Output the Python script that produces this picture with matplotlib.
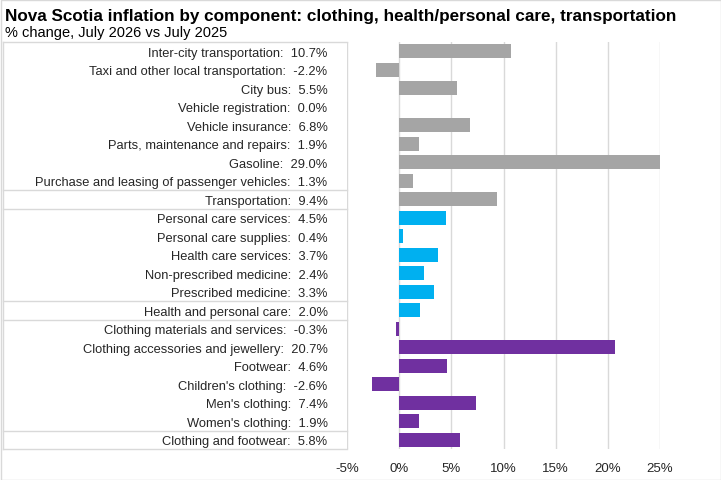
import matplotlib.pyplot as plt
from matplotlib.lines import Line2D
from matplotlib.patches import Rectangle
from matplotlib.transforms import blended_transform_factory

plt.rcParams['font.family'] = ['Liberation Sans', 'DejaVu Sans']

categories = [
    "Inter-city transportation", "Taxi and other local transportation", "City bus",
    "Vehicle registration", "Vehicle insurance", "Parts, maintenance and repairs",
    "Gasoline", "Purchase and leasing of passenger vehicles", "Transportation",
    "Personal care services", "Personal care supplies", "Health care services",
    "Non-prescribed medicine", "Prescribed medicine", "Health and personal care",
    "Clothing materials and services", "Clothing accessories and jewellery", "Footwear",
    "Children's clothing", "Men's clothing", "Women's clothing", "Clothing and footwear",
]
values = [10.7, -2.2, 5.5, 0.0, 6.8, 1.9, 29.0, 1.3, 9.4,
          4.5, 0.4, 3.7, 2.4, 3.3, 2.0,
          -0.3, 20.7, 4.6, -2.6, 7.4, 1.9, 5.8]
groups = ["transport"] * 9 + ["health"] * 6 + ["clothing"] * 7
group_colors = {"transport": "#A5A5A5", "health": "#00B0F0", "clothing": "#7030A0"}
x_ticks = [-5, 0, 5, 10, 15, 20, 25]

W, H = 721, 481
fig = plt.figure(figsize=(W / 100, H / 100), dpi=100)
left, right, top, bottom = 347, 660, 43, 450
ax = fig.add_axes([left / W, 1 - bottom / H, (right - left) / W, (bottom - top) / H])

n = len(categories)
ypos = list(range(n))
ax.barh(ypos, values, height=0.74, color=[group_colors[g] for g in groups], zorder=2)
ax.set_ylim(n - 0.5, -0.5)
ax.set_xlim(-5, 25)
ax.set_xticks(x_ticks)
ax.set_xticklabels([f"{t}%" for t in x_ticks], fontsize=9.5, color="#262626")
ax.set_yticks(ypos)
ax.set_yticklabels([f"{c}:  {v:.1f}%" for c, v in zip(categories, values)],
                   fontsize=9.3, color="#262626")
ax.tick_params(axis="y", length=0, pad=14)
ax.tick_params(axis="x", length=0, pad=9)
ax.grid(axis="x", color="#D9D9D9", linewidth=1, zorder=0)
for s in ax.spines.values():
    s.set_visible(False)

# label table lines
tr = blended_transform_factory(fig.transFigure, ax.transData)
x0, x1 = 3 / W, left / W
for b in [-0.5, 7.5, 8.5, 13.5, 14.5, 20.5, 21.5]:
    fig.add_artist(Line2D([x0, x1], [b, b], transform=tr, color="#D9D9D9", linewidth=1))
fig.add_artist(Line2D([x0, x0], [-0.5, n - 0.5], transform=tr, color="#D9D9D9", linewidth=1))

fig.text(5 / W, 1 - 17 / H, "Nova Scotia inflation by component: clothing, health/personal care, transportation",
         fontsize=12.3, fontweight="bold", va="center", ha="left", color="#000000")
fig.text(5 / W, 1 - 33 / H, "% change, July 2026 vs July 2025",
         fontsize=10.5, va="center", ha="left", color="#000000")

fig.add_artist(Rectangle((0.5 / W, 0.5 / H), 1 - 1 / W, 1 - 1 / H, transform=fig.transFigure,
                         fill=False, edgecolor="#D9D9D9", linewidth=1))

fig.savefig("out.png", dpi=100)
